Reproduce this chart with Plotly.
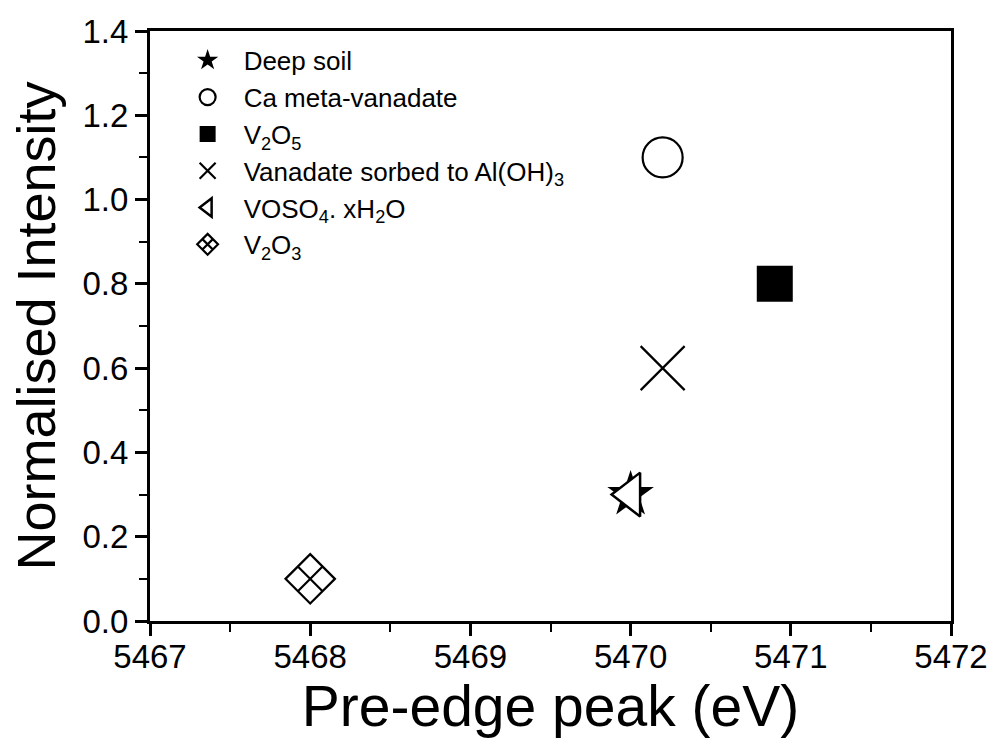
import plotly.graph_objects as go

# Data
names = [
    "Deep soil",
    "Ca meta-vanadate",
    "V<sub>2</sub>O<sub>5</sub>",
    "Vanadate sorbed to Al(OH)<sub>3</sub>",
    "VOSO<sub>4</sub>. xH<sub>2</sub>O",
    "V<sub>2</sub>O<sub>3</sub>",
]
pre_edge_ev = [5470.0, 5470.2, 5470.9, 5470.2, 5470.0, 5468.0]
norm_intensity = [0.30, 1.10, 0.80, 0.60, 0.30, 0.10]

symbols = ["star", "circle", "square", "x-thin", "triangle-left", "diamond-x-open"]
sizes = [35, 40, 36, 44, 38, 38]
fills = ["black", "white", "black", "black", "white", "black"]
line_w = [0, 2.2, 0, 2.2, 2.5, 2.2]

x_ticks = [5467, 5468, 5469, 5470, 5471, 5472]
y_ticks = [0.0, 0.2, 0.4, 0.6, 0.8, 1.0, 1.2, 1.4]

FONT = "Liberation Sans, Arial, sans-serif"

fig = go.Figure()
for i, nm in enumerate(names):
    fig.add_trace(go.Scatter(
        x=[pre_edge_ev[i]], y=[norm_intensity[i]],
        mode="markers", name=nm,
        marker=dict(symbol=symbols[i], size=sizes[i], color=fills[i],
                    line=dict(color="black", width=line_w[i])),
    ))

axis_common = dict(
    showline=True, linecolor="black", linewidth=3, mirror=True,
    ticks="outside", ticklen=12, tickwidth=2.5, tickcolor="black",
    showgrid=False, zeroline=False,
    tickfont=dict(family=FONT, size=33, color="black"),
)

fig.update_xaxes(
    **axis_common,
    range=[5467, 5472], tickvals=x_ticks, ticktext=[str(v) for v in x_ticks],
    ticklabelstandoff=-8,
    minor=dict(ticks="outside", ticklen=8, tickwidth=2, tickcolor="black", dtick=0.5, showgrid=False),
    title=dict(text="Pre-edge peak (eV)", font=dict(family=FONT, size=57, color="black"), standoff=0),
)
fig.update_yaxes(
    **axis_common,
    range=[0, 1.4], tickvals=y_ticks, ticktext=[f"{v:.1f}" for v in y_ticks],
    minor=dict(ticks="outside", ticklen=8, tickwidth=2, tickcolor="black", dtick=0.1, showgrid=False),
    title=dict(text="Normalised Intensity", font=dict(family=FONT, size=54, color="black"), standoff=10),
)

fig.update_layout(
    width=1000, height=738,
    margin=dict(l=150, r=42, t=31, b=117),
    paper_bgcolor="white", plot_bgcolor="white",
    font=dict(family=FONT, color="black"),
    legend=dict(x=0.027, y=0.99, xanchor="left", yanchor="top",
                bgcolor="rgba(0,0,0,0)", borderwidth=0,
                font=dict(family=FONT, size=26, color="black"),
                itemwidth=62, tracegroupgap=0),
    showlegend=True,
)

fig.write_html("out.html")
